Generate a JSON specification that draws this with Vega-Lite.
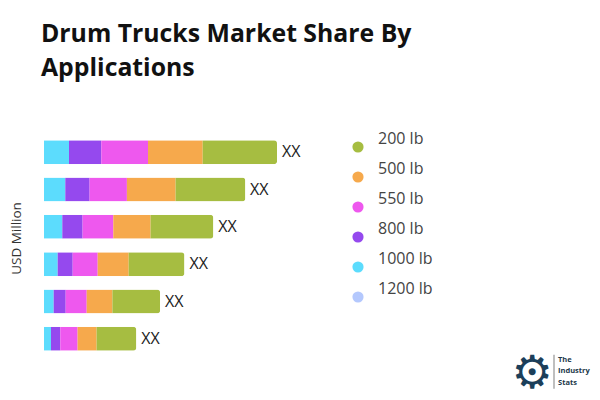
{
  "$schema": "https://vega.github.io/schema/vega-lite/v6.json",
  "autosize": {"type": "none"},
  "padding": {"left": 44, "top": 133.5, "right": 0, "bottom": 42.5},
  "width": 556,
  "height": 224,
  "background": "white",
  "title": {
    "text": ["Drum Trucks Market Share By", "Applications"],
    "anchor": "start",
    "frame": "group",
    "dx": -3,
    "offset": 53,
    "font": "Open Sans",
    "fontSize": 24.8,
    "fontWeight": "bold",
    "color": "#111111",
    "lineHeight": 34
  },
  "datasets": {
    "shares": [
      {"row": "A", "size": "1200 lb", "rank": 0, "value": 0},
      {"row": "A", "size": "1000 lb", "rank": 1, "value": 25},
      {"row": "A", "size": "800 lb", "rank": 2, "value": 32.3},
      {"row": "A", "size": "550 lb", "rank": 3, "value": 46.7},
      {"row": "A", "size": "500 lb", "rank": 4, "value": 54.7},
      {"row": "A", "size": "200 lb", "rank": 5, "value": 74.3},
      {"row": "B", "size": "1200 lb", "rank": 0, "value": 0},
      {"row": "B", "size": "1000 lb", "rank": 1, "value": 21.3},
      {"row": "B", "size": "800 lb", "rank": 2, "value": 24.3},
      {"row": "B", "size": "550 lb", "rank": 3, "value": 37.3},
      {"row": "B", "size": "500 lb", "rank": 4, "value": 48.7},
      {"row": "B", "size": "200 lb", "rank": 5, "value": 69.7},
      {"row": "C", "size": "1200 lb", "rank": 0, "value": 0},
      {"row": "C", "size": "1000 lb", "rank": 1, "value": 18.3},
      {"row": "C", "size": "800 lb", "rank": 2, "value": 20.3},
      {"row": "C", "size": "550 lb", "rank": 3, "value": 30.7},
      {"row": "C", "size": "500 lb", "rank": 4, "value": 37.3},
      {"row": "C", "size": "200 lb", "rank": 5, "value": 62.7},
      {"row": "D", "size": "1200 lb", "rank": 0, "value": 0},
      {"row": "D", "size": "1000 lb", "rank": 1, "value": 13.7},
      {"row": "D", "size": "800 lb", "rank": 2, "value": 15},
      {"row": "D", "size": "550 lb", "rank": 3, "value": 25},
      {"row": "D", "size": "500 lb", "rank": 4, "value": 31},
      {"row": "D", "size": "200 lb", "rank": 5, "value": 55.7},
      {"row": "E", "size": "1200 lb", "rank": 0, "value": 0},
      {"row": "E", "size": "1000 lb", "rank": 1, "value": 9.7},
      {"row": "E", "size": "800 lb", "rank": 2, "value": 12},
      {"row": "E", "size": "550 lb", "rank": 3, "value": 21},
      {"row": "E", "size": "500 lb", "rank": 4, "value": 25.7},
      {"row": "E", "size": "200 lb", "rank": 5, "value": 47.7},
      {"row": "F", "size": "1200 lb", "rank": 0, "value": 0},
      {"row": "F", "size": "1000 lb", "rank": 1, "value": 7},
      {"row": "F", "size": "800 lb", "rank": 2, "value": 9.3},
      {"row": "F", "size": "550 lb", "rank": 3, "value": 17.3},
      {"row": "F", "size": "500 lb", "rank": 4, "value": 19},
      {"row": "F", "size": "200 lb", "rank": 5, "value": 39.7}
    ],
    "totals": [
      {"row": "A", "total": 233, "label": "XX"},
      {"row": "B", "total": 201, "label": "XX"},
      {"row": "C", "total": 169.3, "label": "XX"},
      {"row": "D", "total": 140.4, "label": "XX"},
      {"row": "E", "total": 116.1, "label": "XX"},
      {"row": "F", "total": 92.3, "label": "XX"}
    ],
    "logoText": [{"row": "F", "pos": 514, "label": "The\nIndustry\nStats"}],
    "logoGear": [{"row": "F", "pos": 488, "label": "⚙"}],
    "logoBar": [{"row": "F", "pos": 510}]
  },
  "encoding": {
    "y": {
      "field": "row",
      "type": "nominal",
      "sort": ["A", "B", "C", "D", "E", "F"],
      "scale": {"paddingInner": 0, "paddingOuter": 0},
      "axis": {
        "title": "USD Million",
        "labels": false,
        "ticks": false,
        "domain": false,
        "grid": false,
        "titleFont": "Open Sans",
        "titleFontSize": 13.5,
        "titleFontWeight": "normal",
        "titleColor": "#333333",
        "titleX": -21,
        "titleY": 104.5
      }
    },
    "x": {
      "type": "quantitative",
      "scale": {"domain": [0, 556], "nice": false, "zero": true},
      "axis": null
    }
  },
  "layer": [
    {
      "data": {"name": "shares"},
      "mark": {"type": "bar", "size": 24, "cornerRadiusEnd": 3},
      "encoding": {
        "x": {"field": "value", "type": "quantitative", "stack": "zero", "scale": {"domain": [0, 556], "nice": false}, "axis": null},
        "order": {"field": "rank", "type": "quantitative"},
        "color": {
          "field": "size",
          "type": "nominal",
          "scale": {
            "domain": ["200 lb", "500 lb", "550 lb", "800 lb", "1000 lb", "1200 lb"],
            "range": ["#a6bd41", "#f6a94c", "#ee58ee", "#9549ee", "#5cdcfd", "#b4c8fd"]
          },
          "legend": {
            "title": null,
            "orient": "none",
            "legendX": 306,
            "legendY": 5.5,
            "symbolType": "circle",
            "symbolSize": 125,
            "symbolStrokeWidth": 0,
            "labelFont": "Open Sans",
            "labelFontSize": 16,
            "labelColor": "#444444",
            "labelBaseline": "bottom",
            "labelOffset": 12,
            "rowPadding": 8
          }
        }
      }
    },
    {
      "data": {"name": "totals"},
      "mark": {"type": "text", "align": "left", "dx": 5, "font": "Open Sans", "fontSize": 16, "color": "#222222"},
      "encoding": {
        "x": {"field": "total", "type": "quantitative"},
        "text": {"field": "label"}
      }
    },
    {
      "data": {"name": "logoText"},
      "mark": {"type": "text", "align": "left", "baseline": "middle", "dy": 21, "lineBreak": "\n", "lineHeight": 11.5, "font": "Open Sans", "fontSize": 7.5, "fontWeight": "bold", "color": "#22384a"},
      "encoding": {
        "x": {"field": "pos", "type": "quantitative"},
        "text": {"field": "label"}
      }
    },
    {
      "data": {"name": "logoGear"},
      "mark": {"type": "text", "align": "center", "baseline": "middle", "dy": 35, "font": "DejaVu Sans", "fontSize": 46, "color": "#1c3f5a"},
      "encoding": {
        "x": {"field": "pos", "type": "quantitative"},
        "text": {"field": "label"}
      }
    },
    {
      "data": {"name": "logoBar"},
      "mark": {"type": "point", "shape": "M0,1.6V5", "size": 400, "filled": false, "stroke": "#aaaaaa", "strokeWidth": 1.5, "opacity": 1},
      "encoding": {
        "x": {"field": "pos", "type": "quantitative"}
      }
    }
  ],
  "config": {"view": {"stroke": null}}
}
